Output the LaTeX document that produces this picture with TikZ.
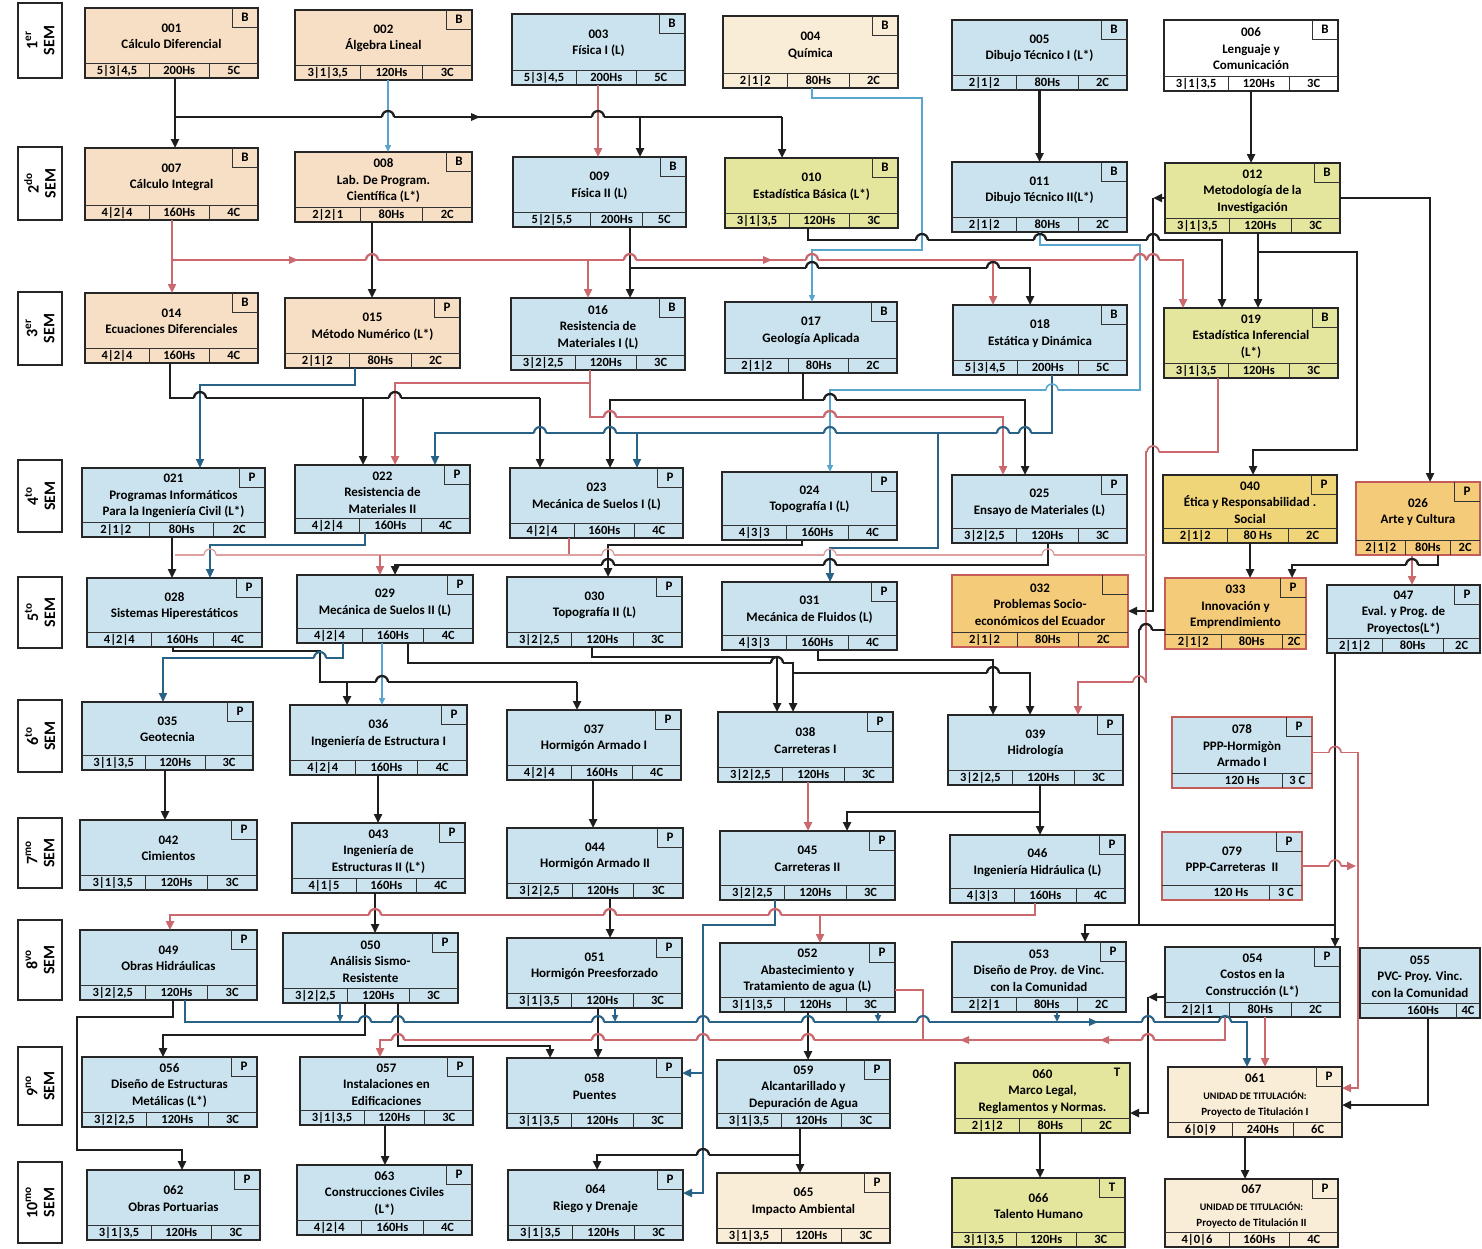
\documentclass[tikz,border=0pt]{standalone}
\usepackage{fontspec}
\setmainfont{Carlito}
\usetikzlibrary{arrows.meta}
\definecolor{beige}{RGB}{246,223,196}
\definecolor{cblue}{RGB}{202,227,238}
\definecolor{cream}{RGB}{250,237,215}
\definecolor{ygreen}{RGB}{229,230,158}
\definecolor{gold}{RGB}{240,212,120}
\definecolor{orng}{RGB}{244,203,120}
\definecolor{redb}{RGB}{196,92,88}
\definecolor{kcol}{RGB}{30,30,30}
\definecolor{rcol}{RGB}{203,105,110}
\definecolor{bcol}{RGB}{40,98,135}
\definecolor{lbcol}{RGB}{90,165,205}
\definecolor{pcol}{RGB}{222,160,160}

\newcommand{\course}[8]{%
  \pgfmathsetmacro\cW{#4-#2}%
  \pgfmathsetmacro\cH{#5-#3}%
  \node[cbox,#6,minimum width=\cW pt,minimum height=\cH pt,anchor=north west] (#1) at (#2,#3) {};
  \draw[cgrid] (#2,{#5-15}) -- (#4,{#5-15});
  \draw[cgrid,tagbox] ({#4-26},#3) -- ({#4-26},{#3+19}) -- (#4,{#3+19});
  \node[tagtext] at ({#4-13},{#3+9.5}) {#8};
  \node[titletext] at ({(#2+#4)/2},{(#3+#5-15)/2+1}) {#7};
  \gdef\cxa{#2}\gdef\cxb{#4}\gdef\cyb{#5}%
}
\newcommand{\cellsf}[5]{%
  \pgfmathsetmacro\cdA{\cxa+#1*(\cxb-\cxa)}%
  \pgfmathsetmacro\cdB{\cxa+#2*(\cxb-\cxa)}%
  \draw[cgrid] (\cdA,{\cyb-15}) -- (\cdA,\cyb);
  \draw[cgrid] (\cdB,{\cyb-15}) -- (\cdB,\cyb);
  \node[celltext] at ({(\cxa+\cdA)/2},{\cyb-7.3}) {#3};
  \node[celltext] at ({(\cdA+\cdB)/2},{\cyb-7.3}) {#4};
  \node[celltext] at ({(\cdB+\cxb)/2},{\cyb-7.3}) {#5};
}
\newcommand{\cells}[3]{\cellsf{0.37}{0.72}{#1}{#2}{#3}}
\newcommand{\cellstwo}[3]{%
  \pgfmathsetmacro\cdB{\cxa+#1*(\cxb-\cxa)}%
  \draw[cgrid] (\cdB,{\cyb-15}) -- (\cdB,\cyb);
  \node[celltext] at ({(\cxa+\cdB)/2+15},{\cyb-7.3}) {#2};
  \node[celltext] at ({(\cdB+\cxb)/2},{\cyb-7.3}) {#3};
}
\newcommand{\hop}[4]{%
  \fill[white] ({#1-6},{#2-1.8}) rectangle ({#1+6},{#2+1.8});
  \draw[#4] (#1,{#2-2.6}) -- (#1,{#2+2.6});
  \draw[#3] ({#1-6},#2) arc[start angle=180,end angle=0,radius=6pt];
}
\newcommand{\arrR}[3]{\fill[#3] (#1,#2) -- ({#1-9},{#2-4}) -- ({#1-9},{#2+4}) -- cycle;}
\newcommand{\arrL}[3]{\fill[#3] (#1,#2) -- ({#1+9},{#2-4}) -- ({#1+9},{#2+4}) -- cycle;}

\begin{document}
\begin{tikzpicture}[x=1pt,y=-1pt,
  cbox/.style={draw=black!85,line width=1.1pt,inner sep=0pt,outer sep=0pt},
  cgrid/.style={draw=black!80,line width=0.9pt},
  tagbox/.style={},
  fbeige/.style={fill=beige},
  fblue/.style={fill=cblue},
  fcream/.style={fill=cream},
  fwhite/.style={fill=white},
  fyg/.style={fill=ygreen},
  fgold/.style={fill=gold},
  forange/.style={fill=orng,draw=redb,line width=2.4pt},
  fbluered/.style={fill=cblue,draw=redb,line width=2.8pt},
  titletext/.style={font=\bfseries\fontsize{13}{16.5}\selectfont,align=center,inner sep=0pt},
  celltext/.style={font=\bfseries\fontsize{12.5}{13}\selectfont,inner sep=0pt},
  tagtext/.style={font=\bfseries\fontsize{13}{14}\selectfont,inner sep=0pt},
  sem/.style={draw=black!85,line width=1.3pt,rotate=90,minimum height=44pt,align=center,
    font=\bfseries\fontsize{16}{17}\selectfont,inner sep=0pt},
  lk/.style={draw=kcol,line width=2.3pt},
  lr/.style={draw=rcol,line width=2.3pt},
  lrt/.style={draw=rcol,line width=1.7pt},
  lb/.style={draw=bcol,line width=2.1pt},
  llb/.style={draw=lbcol,line width=1.5pt},
  lp/.style={draw=pcol,line width=1.3pt},
  arw/.style={-{Triangle[length=9pt,width=8pt]}},
  arwS/.style={-{Triangle[length=7pt,width=6pt]}}
]
\fill[white] (0,0) rectangle (1482,1248);
\useasboundingbox (0,0) rectangle (1482,1248);
\clip (0,0) rectangle (1482,1248);

% semester labels
\node[sem,minimum width=75pt] (s1) at (40,40.5) {1\textsuperscript{er}\\SEM};
\node[sem,minimum width=73pt] (s2) at (40,183.5) {2\textsuperscript{do}\\SEM};
\node[sem,minimum width=73pt] (s3) at (40,328.5) {3\textsuperscript{er}\\SEM};
\node[sem,minimum width=72pt] (s4) at (40,496) {4\textsuperscript{to}\\SEM};
\node[sem,minimum width=71pt] (s5) at (40,612.5) {5\textsuperscript{to}\\SEM};
\node[sem,minimum width=72pt] (s6) at (40,736) {6\textsuperscript{to}\\SEM};
\node[sem,minimum width=70pt] (s7) at (40,853) {7\textsuperscript{mo}\\SEM};
\node[sem,minimum width=80pt] (s8) at (40,960) {8\textsuperscript{vo}\\SEM};
\node[sem,minimum width=78pt] (s9) at (40,1086) {9\textsuperscript{no}\\SEM};
\node[sem,minimum width=81pt] (s10) at (40,1202.5) {10\textsuperscript{mo}\\SEM};

% row 1
\course{c001}{85}{8}{258}{78}{fbeige}{001\\Cálculo Diferencial}{B}\cells{5|3|4,5}{200Hs}{5C}
\course{c002}{295}{10}{472}{80}{fbeige}{002\\Álgebra Lineal}{B}\cells{3|1|3,5}{120Hs}{3C}
\course{c003}{512}{14}{685}{85}{fblue}{003\\Física I (L)}{B}\cells{5|3|4,5}{200Hs}{5C}
\course{c004}{723}{16}{898}{88}{fcream}{004\\Química}{B}\cells{2|1|2}{80Hs}{2C}
\course{c005}{952}{20}{1127}{90}{fblue}{005\\Dibujo Técnico I (L*)}{B}\cells{2|1|2}{80Hs}{2C}
\course{c006}{1164}{20}{1338}{91}{fwhite}{006\\Lenguaje y\\Comunicación}{B}\cells{3|1|3,5}{120Hs}{3C}
% row 2
\course{c007}{85}{148}{258}{220}{fbeige}{007\\Cálculo Integral}{B}\cells{4|2|4}{160Hs}{4C}
\course{c008}{295}{152}{472}{222}{fbeige}{008\\Lab. De Program.\\Científica (L*)}{B}\cells{2|2|1}{80Hs}{2C}
\course{c009}{513}{157}{686}{227}{fblue}{009\\Física II (L)}{B}\cellsf{0.45}{0.75}{5|2|5,5}{200Hs}{5C}
\course{c010}{725}{158}{898}{228}{fyg}{010\\Estadística Básica (L*)}{B}\cells{3|1|3,5}{120Hs}{3C}
\course{c011}{952}{162}{1127}{232}{fblue}{011\\Dibujo Técnico II(L*)}{B}\cells{2|1|2}{80Hs}{2C}
\course{c012}{1165}{163}{1340}{233}{fyg}{012\\Metodología de la\\Investigación}{B}\cells{3|1|3,5}{120Hs}{3C}
% row 3
\course{c014}{85}{293}{258}{363}{fbeige}{014\\Ecuaciones Diferenciales}{B}\cells{4|2|4}{160Hs}{4C}
\course{c015}{285}{298}{460}{368}{fbeige}{015\\Método Numérico (L*)}{P}\cells{2|1|2}{80Hs}{2C}
\course{c016}{511}{298}{685}{370}{fblue}{016\\Resistencia de\\Materiales I (L)}{B}\cells{3|2|2,5}{120Hs}{3C}
\course{c017}{725}{302}{897}{373}{fblue}{017\\Geología Aplicada}{B}\cells{2|1|2}{80Hs}{2C}
\course{c018}{953}{305}{1127}{375}{fblue}{018\\Estática y Dinámica}{B}\cells{5|3|4,5}{200Hs}{5C}
\course{c019}{1164}{308}{1338}{378}{fyg}{019\\Estadística Inferencial\\(L*)}{B}\cells{3|1|3,5}{120Hs}{3C}
% row 4
\course{c021}{82}{468}{265}{537}{fblue}{021\\Programas Informáticos\\Para la Ingeniería Civil (L*)}{P}\cells{2|1|2}{80Hs}{2C}
\course{c022}{295}{465}{470}{533}{fblue}{022\\Resistencia de\\Materiales II}{P}\cells{4|2|4}{160Hs}{4C}
\course{c023}{510}{468}{683}{538}{fblue}{023\\Mecánica de Suelos I (L)}{P}\cells{4|2|4}{160Hs}{4C}
\course{c024}{722}{472}{897}{540}{fblue}{024\\Topografía I (L)}{P}\cells{4|3|3}{160Hs}{4C}
\course{c025}{952}{475}{1127}{543}{fblue}{025\\Ensayo de Materiales (L)}{P}\cells{3|2|2,5}{120Hs}{3C}
\course{c040}{1163}{475}{1337}{543}{fgold}{040\\Ética y Responsabilidad .\\Social}{P}\cells{2|1|2}{80 Hs}{2C}
\course{c026}{1356}{482}{1480}{555}{forange}{026\\Arte y Cultura}{P}\cellsf{0.4}{0.76}{2|1|2}{80Hs}{2C}
% row 5
\course{c028}{87}{578}{262}{647}{fblue}{028\\Sistemas Hiperestáticos}{P}\cells{4|2|4}{160Hs}{4C}
\course{c029}{297}{575}{473}{643}{fblue}{029\\Mecánica de Suelos II (L)}{P}\cells{4|2|4}{160Hs}{4C}
\course{c030}{507}{577}{682}{647}{fblue}{030\\Topografía II (L)}{P}\cells{3|2|2,5}{120Hs}{3C}
\course{c031}{722}{582}{897}{650}{fblue}{031\\Mecánica de Fluidos (L)}{P}\cells{4|3|3}{160Hs}{4C}
\course{c032}{952}{575}{1128}{647}{forange}{032\\Problemas Socio-\\económicos del Ecuador}{}\cells{2|1|2}{80Hs}{2C}
\course{c033}{1165}{578}{1306}{649}{forange}{033\\Innovación y\\Emprendimiento}{P}\cellsf{0.4}{0.83}{2|1|2}{80Hs}{2C}
\course{c047}{1327}{585}{1480}{653}{fblue}{047\\Eval. y Prog. de\\Proyectos(L*)}{P}\cellsf{0.36}{0.76}{2|1|2}{80Hs}{2C}
% row 6
\course{c035}{82}{702}{253}{770}{fblue}{035\\Geotecnia}{P}\cells{3|1|3,5}{120Hs}{3C}
\course{c036}{290}{705}{467}{775}{fblue}{036\\Ingeniería de Estructura I}{P}\cells{4|2|4}{160Hs}{4C}
\course{c037}{507}{710}{681}{780}{fblue}{037\\Hormigón Armado I}{P}\cells{4|2|4}{160Hs}{4C}
\course{c038}{718}{712}{893}{782}{fblue}{038\\Carreteras I}{P}\cells{3|2|2,5}{120Hs}{3C}
\course{c039}{948}{715}{1123}{785}{fblue}{039\\Hidrología}{P}\cells{3|2|2,5}{120Hs}{3C}
\course{c078}{1172}{717}{1312}{788}{fbluered}{078\\PPP-Hormigòn\\Armado I}{P}\cellstwo{0.79}{120 Hs}{3 C}
% row 7
\course{c042}{80}{820}{257}{890}{fblue}{042\\Cimientos}{P}\cells{3|1|3,5}{120Hs}{3C}
\course{c043}{292}{823}{465}{893}{fblue}{043\\Ingeniería de\\Estructuras II (L*)}{P}\cells{4|1|5}{160Hs}{4C}
\course{c044}{507}{828}{683}{898}{fblue}{044\\Hormigón Armado II}{P}\cells{3|2|2,5}{120Hs}{3C}
\course{c045}{720}{831}{895}{900}{fblue}{045\\Carreteras II}{P}\cells{3|2|2,5}{120Hs}{3C}
\course{c046}{950}{835}{1125}{903}{fblue}{046\\Ingeniería Hidráulica (L)}{P}\cells{4|3|3}{160Hs}{4C}
\course{c079}{1162}{832}{1302}{900}{fbluered}{079\\PPP-Carreteras\ \ II}{P}\cellstwo{0.77}{120 Hs}{3 C}
% row 8
\course{c049}{80}{930}{257}{1000}{fblue}{049\\Obras Hidráulicas}{P}\cells{3|2|2,5}{120Hs}{3C}
\course{c050}{283}{933}{458}{1003}{fblue}{050\\Análisis Sismo-\\Resistente}{P}\cells{3|2|2,5}{120Hs}{3C}
\course{c051}{507}{938}{682}{1008}{fblue}{051\\Hormigón Preesforzado}{P}\cells{3|1|3,5}{120Hs}{3C}
\course{c052}{720}{943}{895}{1012}{fblue}{052\\Abastecimiento y\\Tratamiento de agua (L)}{P}\cells{3|1|3,5}{120Hs}{3C}
\course{c053}{952}{942}{1126}{1012}{fblue}{053\\Diseño de Proy. de Vinc.\\con la Comunidad}{P}\cells{2|2|1}{80Hs}{2C}
\course{c054}{1165}{947}{1340}{1017}{fblue}{054\\Costos en la\\Construcción (L*)}{P}\cells{2|2|1}{80Hs}{2C}
\tikzset{tagbox/.style={draw=none}}
\course{c055}{1360}{948}{1480}{1018}{fblue}{055\\PVC- Proy. Vinc.\\con la Comunidad}{}\cellstwo{0.8}{160Hs}{4C}
\tikzset{tagbox/.style={}}
% row 9
\course{c056}{82}{1057}{257}{1127}{fblue}{056\\Diseño de Estructuras\\Metálicas (L*)}{P}\cells{3|2|2,5}{120Hs}{3C}
\course{c057}{300}{1057}{473}{1125}{fblue}{057\\Instalaciones en\\Edificaciones}{P}\cells{3|1|3,5}{120Hs}{3C}
\course{c058}{507}{1058}{682}{1128}{fblue}{058\\Puentes}{P}\cells{3|1|3,5}{120Hs}{3C}
\course{c059}{717}{1060}{890}{1128}{fblue}{059\\Alcantarillado y\\Depuración de Agua}{P}\cells{3|1|3,5}{120Hs}{3C}
\tikzset{tagbox/.style={draw=none}}
\course{c060}{955}{1063}{1130}{1133}{fyg}{060\\Marco Legal,\\Reglamentos y Normas.}{T}\cells{2|1|2}{80Hs}{2C}
\tikzset{tagbox/.style={}}
\course{c061}{1168}{1067}{1342}{1137}{fcream}{061\\{\fontsize{10}{13}\selectfont UNIDAD DE TITULACIÓN:}\\{\fontsize{11}{13}\selectfont Proyecto de Titulación I}}{P}\cells{6|0|9}{240Hs}{6C}
% row 10
\course{c062}{87}{1170}{260}{1240}{fblue}{062\\Obras Portuarias}{P}\cells{3|1|3,5}{120Hs}{3C}
\course{c063}{297}{1165}{472}{1235}{fblue}{063\\Construcciones Civiles\\(L*)}{P}\cells{4|2|4}{160Hs}{4C}
\course{c064}{508}{1170}{683}{1240}{fblue}{064\\Riego y Drenaje}{P}\cells{3|1|3,5}{120Hs}{3C}
\course{c065}{717}{1173}{890}{1243}{fcream}{065\\Impacto Ambiental}{P}\cells{3|1|3,5}{120Hs}{3C}
\course{c066}{952}{1178}{1125}{1247}{fyg}{066\\Talento Humano}{T}\cells{3|1|3,5}{120Hs}{3C}
\course{c067}{1165}{1179}{1338}{1247}{fcream}{067\\{\fontsize{10}{13}\selectfont UNIDAD DE TITULACIÓN:}\\{\fontsize{11}{13}\selectfont Proyecto de Titulación II}}{P}\cells{4|0|6}{160Hs}{4C}

% ---------- connectors ----------
% 1 -> 2
\draw[lk,arw] (c001.south -| 175,0) -- (c007.north -| 175,0);
\draw[lk] (c001.south -| 175,0) |- (782,117);
\draw[lk,arw] (640,117) -- (c009.north -| 640,0);
\draw[lk,arw] (782,117) -- (c010.north -| 782,0);
\arrR{480}{117}{kcol}
\draw[llb,arwS] (c002.south -| 388,0) -- (c008.north -| 388,0);
\draw[lr,arw] (c003.south -| 598,0) -- (c009.north -| 598,0);
\draw[llb,arwS] (c004.south -| 812,0) |- (922,98) |- (812,250) -- (c017.north -| 812,0);
\draw[lk,arw] (c005.south) -- (c011.north);
\draw[lk,arw] (c006.south -| 1251,0) -- (c012.north -| 1251,0);
% 2 -> 3
\draw[lr,arw] (c007.south -| 172,0) -- (c014.north -| 172,0);
\draw[lr,arw] (c007.south -| 172,0) |- (1183,260) -- (c019.north -| 1183,0);
\draw[lr,arw] (588,260) -- (c016.north -| 588,0);
\draw[lr,arw] (993,260) -- (c018.north -| 993,0);
\arrR{298}{260}{rcol}
\arrR{772}{260}{rcol}
\draw[lk,arw] (c008.south -| 372,0) -- (c015.north -| 372,0);
\draw[lk,arw] (c009.south -| 630,0) -- (c016.north -| 630,0);
\draw[lk,arw] (630,268) -| (c018.north -| 1030,0);
\draw[lk,arw] (c010.south -| 808,0) |- (1222,240) -- (c019.north -| 1222,0);
\draw[llb,arwS] (c011.south -| 1040,0) |- (1140,245) |- (830,390) -- (c024.north -| 830,0);
\draw[lk,arw] (c012.south -| 1258,0) -- (c019.north -| 1258,0);
\draw[lk,arw] (1258,252) -| (1357,450) -| (c040.north -| 1253,0);
\draw[lk,arw] (c012.east) -| (c026.north -| 1430,0);
\draw[lk,arw] (c012.west) -- ++(-12,0);
\draw[lk,arw] ([xshift=-12pt]c012.west) |- (c032.east);
% 3 -> 4
\draw[lk] (c014.south -| 170,0) |- (540,398);
\draw[lk,arw] (540,398) -- (c023.north -| 540,0);
\draw[lk,arw] (363,398) -- (c022.north -| 363,0);
\draw[lb,arw] (c015.south -| 355,0) |- (200,385) -- (c021.north -| 200,0);
\draw[lr,arw] (c016.south -| 590,0) |- (395,383) -- (c022.north -| 395,0);
\draw[lr,arw] (590,383) -- (590,417) -| (c025.north -| 1003,0);
\draw[lk] (c017.south -| 803,0) -- (803,400);
\draw[lk,arw] (803,400) -| (c025.north -| 1025,0);
\draw[lk,arw] (803,400) -| (c023.north -| 610,0);
\draw[lb,arw] (c018.south -| 1052,0) |- (435,433) -- (c022.north -| 435,0);
\draw[lb,arw] (637,433) -- (c023.north -| 637,0);
\draw[lb,arw] (938,433) |- (830,548) -- (c031.north -| 830,0);
\draw[lrt,arw] (c019.south -| 1218,0) |- (1146,452) |- (1078,682) -- (c039.north -| 1078,0);
% 4 -> 5
\draw[lk,arw] (c021.south -| 172,0) -- (c028.north -| 172,0);
\draw[lb,arw] (c022.south -| 365,0) |- (210,545) -- (c028.north -| 210,0);
\draw[lrt] (c023.south -| 569,0) -- (569,555);
\draw[lp] (1146,555) -- (175,555);
\draw[lrt,arw] (380,555) -- (c029.north -| 380,0);
\draw[lk,arw] (c024.south -| 802,0) |- (608,545) -- (c030.north -| 608,0);
\draw[lk,arw] (c025.south -| 1048,0) |- (395,565) -- (c029.north -| 395,0);
\draw[lk,arw] (c026.south -| 1438,0) |- (1292,565) -- (c033.north -| 1292,0);
\draw[lr,arw] (c026.south -| 1412,0) -- (c047.north -| 1412,0);
\draw[lk,arw] (c040.south -| 1250,0) -- (c033.north -| 1250,0);
\draw[lk,arw] (c033.west |- 0,630) -| (1139,925) -| (c053.north -| 1085,0);
\draw[lk,arw] (c047.south -| 1335,0) -- (c054.north -| 1335,0);
\draw[lk] (1139,925) -- (1335,925);
% 5 -> 6
\draw[lk] (c028.south -| 173,0) -- (173,651) -- (320,651) -- (320,682) -- (577,682);
\draw[lk,arw] (577,682) -- (c037.north -| 577,0);
\draw[lk,arw] (347,682) -- (c036.north -| 347,0);
\draw[lb,arw] (c029.south -| 343,0) |- (163,658) -- (c035.north -| 163,0);
\draw[llb,arwS] (c029.south -| 382,0) -- (c036.north -| 382,0);
\draw[lk,arw] (c029.south -| 408,0) |- (793,663) -- (c038.north -| 793,0);
\draw[lk,arw] (793,663) -- (793,673) -| (c039.north -| 1030,0);
\draw[lk,arw] (c030.south -| 592,0) |- (777,657) -- (c038.north -| 777,0);
\draw[lk,arw] (c031.south -| 818,0) |- (993,660) -- (c039.north -| 993,0);
% 6 -> 7
\draw[lk,arw] (c035.south -| 165,0) -- (c042.north -| 165,0);
\draw[lk,arw] (c036.south -| 378,0) -- (c043.north -| 378,0);
\draw[lk,arw] (c037.south -| 593,0) -- (c044.north -| 593,0);
\draw[lr,arw] (c038.south -| 808,0) -- (c045.north -| 808,0);
\draw[lk,arw] (c039.south -| 1040,0) -- (c046.north -| 1040,0);
\draw[lk,arw] (1040,812) -| (c045.north -| 847,0);
\draw[lrt,arw] (c078.east) -| (1358,1088) -- (c061.east |- 0,1088);
\draw[lrt,arw] (c079.east) -- (1356,866);
% 7 -> 8
\draw[lr,arw] (c046.south -| 1035,0) |- (170,915) -- (c049.north -| 170,0);
\draw[lr,arw] (820,915) -- (c052.north -| 820,0);
\draw[lk,arw] (c043.south -| 375,0) -- (c050.north -| 375,0);
\draw[lk,arw] (c044.south -| 610,0) -- (c051.north -| 610,0);
\draw[lb,arw] (c045.south -| 775,0) |- (703,925) |- (c064.east |- 0,1193);
\draw[lb,arw] (703,1073) -- (c058.east |- 0,1073);
% 8 -> 9
\draw[lk,arw] (c049.south -| 173,0) |- (77,1017) |- (182,1150) -- (c062.north -| 182,0);
\draw[lb,arw] (c049.south -| 185,0) |- (1247,1022) -- (c061.north -| 1247,0);
\draw[lb,arwS] (c050.south -| 340,0) -- (340,1022);
\draw[lb,arwS] (c051.south -| 615,0) -- (615,1022);
\draw[lb,arwS] (c052.south -| 878,0) -- (878,1022);
\draw[lb,arwS] (c053.south -| 1057,0) -- (1057,1022);
\arrR{1098}{1022}{bcol}
\draw[lr,arw] (c054.south -| 1225,0) |- (380,1040) -- (c057.north -| 380,0);
\arrL{1100}{1040}{rcol}
\arrL{960}{1040}{rcol}
\draw[lr] (c052.east |- 0,990) -| (923,1040);
\draw[lr,arw] (c054.south -| 1265,0) -- (c061.north -| 1265,0);
\draw[lk,arw] (c050.south -| 365,0) |- (163,1035) -- (c056.north -| 163,0);
\draw[lk,arw] (c050.south -| 398,0) |- (550,1046) -- (c058.north -| 550,0);
\draw[lk,arw] (c051.south -| 598,0) -- (c058.north -| 598,0);
\draw[lk,arw] (c052.south -| 808,0) -- (c059.north -| 808,0);
\draw[lk,arw] (c054.west |- 0,997) -- ++(-17,0);
\draw[lk,arw] (1148,997) |- (c060.east |- 0,1113);
\draw[lk,arw] (c055.south -| 1428,0) |- (c061.east |- 0,1105);
% 9 -> 10
\draw[lk,arw] (c057.south -| 385,0) -- (c063.north -| 385,0);
\draw[lk,arw] (c059.south -| 800,0) -- (c065.north -| 800,0);
\draw[lk,arw] (800,1155) -| (c064.north -| 597,0);
\draw[lk,arw] (c060.south -| 1040,0) -- (c066.north -| 1040,0);
\draw[lk,arw] (c061.south -| 1245,0) -- (c067.north -| 1245,0);

% ---------- line hops ----------
\hop{388}{117}{lk}{llb}
\hop{598}{117}{lk}{lr}
\hop{372}{260}{lr}{lk}
\hop{630}{260}{lr}{lk}
\hop{812}{260}{lr}{llb}
\hop{1140}{260}{lr}{llb}
\hop{1153}{260}{lr}{lk}
\hop{812}{268}{lk}{llb}
\hop{993}{268}{lk}{lr}
\hop{922}{240}{lk}{llb}
\hop{1040}{240}{lk}{llb}
\hop{1153}{240}{lk}{lk}
\hop{1052}{390}{llb}{lb}
\hop{200}{398}{lk}{lb}
\hop{395}{398}{lk}{lr}
\hop{830}{400}{lk}{llb}
\hop{610}{417}{lr}{lk}
\hop{830}{417}{lr}{llb}
\hop{540}{433}{lb}{lk}
\hop{610}{433}{lb}{lk}
\hop{830}{433}{lb}{llb}
\hop{1003}{433}{lb}{lr}
\hop{1025}{433}{lb}{lk}
\hop{1153}{452}{lrt}{lk}
\hop{210}{555}{lp}{lb}
\hop{608}{555}{lp}{lk}
\hop{830}{555}{lp}{lb}
\hop{1048}{555}{lp}{lk}
\hop{608}{565}{lk}{lk}
\hop{830}{565}{lk}{lb}
\hop{1412}{565}{lk}{lr}
\hop{1146}{630}{lk}{lrt}
\hop{1139}{682}{lrt}{lk}
\hop{320}{658}{lb}{lk}
\hop{382}{682}{lk}{llb}
\hop{777}{663}{lk}{lk}
\hop{993}{673}{lk}{lk}
\hop{1335}{752.5}{lrt}{lk}
\hop{1335}{866}{lrt}{lk}
\hop{375}{915}{lr}{lk}
\hop{610}{915}{lr}{lk}
\hop{775}{915}{lr}{lb}
\hop{365}{1022}{lb}{lk}
\hop{398}{1022}{lb}{lk}
\hop{598}{1022}{lb}{lk}
\hop{703}{1022}{lb}{lb}
\hop{808}{1022}{lb}{lk}
\hop{923}{1022}{lb}{lr}
\hop{1148}{1022}{lb}{lk}
\hop{1225}{1022}{lb}{lr}
\hop{398}{1040}{lr}{lk}
\hop{598}{1040}{lr}{lk}
\hop{703}{1040}{lr}{lb}
\hop{808}{1040}{lr}{lk}
\hop{1148}{1040}{lr}{lk}
\hop{703}{1155}{lk}{lb}
\end{tikzpicture}
\end{document}
